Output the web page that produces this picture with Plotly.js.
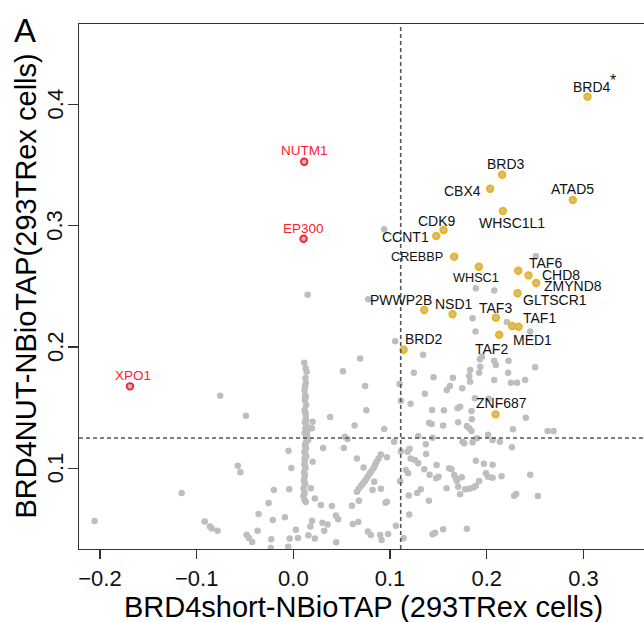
<!DOCTYPE html>
<html>
<head>
<meta charset="utf-8">
<script src="https://cdn.plot.ly/plotly-3.0.1.min.js"></script>
<style>html,body{margin:0;padding:0;background:#fff;}#chart{width:644px;height:622px;}</style>
</head>
<body>
<div id="chart"></div>
<script>
// ---------------- DATA ----------------
const xTickVals = [-0.2, -0.1, 0.0, 0.1, 0.2, 0.3];
const xTickText = ['\u22120.2', '\u22120.1', '0.0', '0.1', '0.2', '0.3'];
const yTickVals = [0.1, 0.2, 0.3, 0.4];
const yTickText = ['0.1', '0.2', '0.3', '0.4'];

const xThreshold = 0.111;
const yThreshold = 0.125;

const xTitle = 'BRD4short-NBioTAP (293TRex cells)';
const yTitle = 'BRD4NUT-NBioTAP(293TRex cells)';
const panelLabel = 'A';

// background proteins (grey)
const grayPoints = [
  [-0.2056,0.0566],[-0.1155,0.0796],[-0.0757,0.1599],[-0.0491,0.1434],[-0.0574,0.1021],[-0.0548,0.0968],[-0.0918,0.0561],[-0.0863,0.052],[-0.0843,0.0504],[-0.0784,0.0486],
  [-0.0484,0.0453],[-0.046,0.0425],[-0.0426,0.0392],[-0.037,0.0486],[-0.036,0.0623],[-0.0256,0.0714],[-0.0202,0.0821],[-0.0212,0.0574],[-0.0228,0.0415],[-0.0233,0.0343],
  [-0.0088,0.0596],[-0.0043,0.0827],[-0.005,0.1145],[-0.0021,0.1002],[-0.0039,0.0421],[-0.0054,0.0354],[0.0026,0.0494],[0.0047,0.0425],
  [0.0112,0.1871],[0.0137,0.1796],[0.0124,0.1744],[0.0129,0.1703],[0.0116,0.1646],[0.0122,0.1604],[0.0119,0.1563],[0.0132,0.1522],[0.0116,0.1481],[0.0126,0.1448],
  [0.0129,0.1415],[0.0119,0.1382],[0.0137,0.1349],[0.0147,0.1316],[0.0116,0.1291],[0.0132,0.1258],[0.0153,0.1233],[0.0122,0.12],[0.0129,0.1167],[0.0114,0.1134],
  [0.0134,0.1101],[0.0119,0.1068],[0.0114,0.1035],[0.0124,0.1002],[0.0112,0.0969],[0.0119,0.0937],[0.0109,0.0904],[0.0122,0.0871],[0.0105,0.0838],[0.0116,0.0805],
  [0.0103,0.0772],[0.0116,0.0739],[0.0129,0.0722],
  [0.0127,0.1825],[0.0121,0.1675],[0.0128,0.1585],[0.0121,0.1465],[0.0131,0.1398],[0.0125,0.1332],[0.0141,0.1275],[0.0131,0.1215],[0.0121,0.1185],[0.0123,0.115],
  [0.0117,0.1085],[0.0121,0.1018],[0.0115,0.0952],[0.0112,0.0887],[0.0113,0.0788],
  [0.0199,0.1384],[0.0191,0.133],[0.0199,0.1054],[0.0181,0.0835],[0.0222,0.0751],[0.0284,0.0697],[0.0398,0.0689],[0.0147,0.2431],
  [0.038,0.1423],[0.0512,0.18],[0.0691,0.1905],[0.0742,0.1678],[0.0755,0.1478],[0.0633,0.1353],[0.0533,0.126],[0.056,0.1242],[0.0522,0.1167],[0.0308,0.1167],
  [0.0657,0.1082],[0.0726,0.1007],
  [0.0905,0.1115],[0.0881,0.1082],[0.086,0.1054],[0.0846,0.1027],[0.0829,0.1],[0.0809,0.0978],[0.0791,0.0959],[0.0774,0.0939],[0.076,0.0918],[0.0739,0.0895],
  [0.0719,0.0876],[0.0698,0.0854],[0.0674,0.0829],[0.0657,0.0807],[0.0836,0.089],[0.0819,0.0821],[0.0905,0.0832],[0.0967,0.1091],[0.0967,0.0725],[0.0605,0.0692],
  [0.0677,0.0733],
  [0.0194,0.0568],[0.0176,0.052],[0.03,0.0552],[0.0354,0.0538],[0.044,0.0611],[0.0463,0.058],[0.0615,0.0541],[0.0672,0.0557],[0.0155,0.0448],[0.0222,0.0421],
  [0.0319,0.0486],[0.0443,0.039],[0.077,0.0479],[0.0801,0.045],[0.0898,0.045],[0.0912,0.0409],[0.098,0.0458],[0.106,0.0527],[0.114,0.0423],[0.1198,0.0619],
  [0.1104,0.0893],[0.1194,0.0776],[0.128,0.0796],[0.1318,0.0827],[0.1401,0.0733],[0.1163,0.0986],[0.1187,0.0959],[0.1256,0.1068],[0.1291,0.1041],[0.1181,0.1137],
  [0.1373,0.1118],[0.1291,0.1266],[0.137,0.1198],[0.1404,0.1376],[0.1429,0.1365],[0.1549,0.1353],[0.1704,0.1379],[0.1353,0.0992],[0.1408,0.0947],[0.1481,0.1027],
  [0.1502,0.0931],[0.1584,0.0835],[0.1611,0.1],[0.1636,0.0992],[0.1663,0.0945],[0.168,0.0918],[0.1704,0.0848],[0.1477,0.0918],[0.1439,0.0456],[0.1466,0.0469],
  [0.1549,0.0497],[0.1439,0.1252],[0.1112,0.114],[0.1202,0.1162],[0.0939,0.1324],[0.1042,0.1219],[0.0953,0.0716],
  [0.0774,0.2393],[0.1053,0.2047],[0.1342,0.1937],[0.1246,0.1788],[0.145,0.175],[0.1649,0.1747],[0.1098,0.1695],[0.1618,0.1678],[0.1587,0.1646],[0.136,0.1615],
  [0.1112,0.1557],[0.1212,0.1533],[0.1435,0.1481],[0.1556,0.1478],[0.1698,0.1495],[0.0939,0.297],
  [0.1887,0.2484],[0.2077,0.2467],[0.2508,0.275],[0.1853,0.2237],[0.2208,0.2206],[0.2449,0.2129],[0.1884,0.2129],[0.1949,0.192],[0.1929,0.1899],[0.2077,0.1887],
  [0.2094,0.1852],[0.2225,0.1887],[0.25,0.1833],[0.1828,0.181],[0.1932,0.1838],[0.1818,0.1761],[0.1921,0.1788],[0.2221,0.1788],[0.1828,0.1714],[0.2077,0.1728],
  [0.2249,0.1706],[0.2314,0.1706],[0.2397,0.1728],[0.1746,0.166],[0.1877,0.1577],[0.2019,0.1574],[0.1725,0.1508],[0.1843,0.1472],[0.2404,0.1417],
  [0.1794,0.1349],[0.1818,0.133],[0.1843,0.1307],[0.1846,0.1404],[0.227,0.1322],[0.2629,0.1307],[0.2691,0.1307],[0.2014,0.1277],[0.206,0.1233],[0.2135,0.1219],
  [0.1898,0.1247],[0.175,0.1219],[0.1766,0.1206],[0.1853,0.1214],[0.226,0.1173],[0.1887,0.1063],[0.197,0.1038],[0.206,0.103],[0.1691,0.0898],[0.1742,0.0926],
  [0.1991,0.0959],[0.2014,0.0931],[0.206,0.0923],[0.2153,0.0934],[0.2449,0.0947],[0.1921,0.0895],[0.1887,0.0857],[0.1864,0.0843],[0.1818,0.0832],[0.1777,0.0827],
  [0.1725,0.0786],[0.2283,0.0774],[0.2304,0.0788],[0.2528,0.0772],[0.1794,0.0502],[0.1212,0.1082]
];

// highlighted hits (orange)
const hitGenes = ['BRD4','BRD3','CBX4','ATAD5','WHSC1L1','CDK9','CCNT1','CREBBP','WHSC1','TAF6','CHD8','ZMYND8','GLTSCR1','PWWP2B','NSD1','TAF3','TAF1','MED1','TAF2','BRD2','ZNF687'];
const hitX = [0.3042,0.2159,0.2035,0.289,0.2166,0.1553,0.1477,0.1663,0.1918,0.2325,0.2432,0.2511,0.2318,0.1353,0.1646,0.2094,0.2329,0.2262,0.2128,0.114,0.2091];
const hitY = [0.4064,0.342,0.3305,0.3212,0.3121,0.2965,0.2915,0.2745,0.2662,0.2629,0.2591,0.2528,0.2443,0.2305,0.227,0.2242,0.2167,0.2173,0.2101,0.1978,0.1445];

// highlighted (red)
const redGenes = ['NUTM1','EP300','XPO1'];
const redX = [0.0112,0.0105,-0.169];
const redY = [0.3528,0.2893,0.1676];

// ---------------- STYLE / LABEL PLACEMENT ----------------
const FONT = 'Liberation Sans, Arial, Helvetica, sans-serif';
const GREY = '#bebebe';
const ORANGE = '#f5b400';
const RED = '#ff2030';
// [anchor, dx(px), dy(px, down positive), fontsize]
const labelPlace = {
  BRD4:['left',-16,-10,14], BRD3:['center',4,-10.7,14], CBX4:['right',-8,2.3,14], ATAD5:['center',0,-11,14],
  WHSC1L1:['center',9.5,11.7,14], CDK9:['center',-6.7,-9,14], CCNT1:['right',-6,1.3,14], CREBBP:['right',-10,0.7,12.7],
  WHSC1:['center',-3.2,11.7,12.7], TAF6:['left',10,-7.8,14], CHD8:['left',12,-0.8,14], ZMYND8:['left',6.5,2.7,14],
  GLTSCR1:['left',4.5,6.7,14], PWWP2B:['center',-23.3,-10,14], NSD1:['center',1.8,-10.3,14], TAF3:['center',0,-9.4,14],
  TAF1:['left',3,-8.7,14], MED1:['left',-0.5,14,14], TAF2:['center',-7.8,14.3,14], BRD2:['left',0.6,-10.4,14],
  ZNF687:['center',6,-11,14], NUTM1:['center',0,-10.7,13.5], EP300:['center',0,-10.4,13.5], XPO1:['center',3.3,-11.3,13.5]
};

function labelAnn(name, x, y, color) {
  const p = labelPlace[name];
  return {x: x, y: y, xref: 'x', yref: 'y', text: name, showarrow: false,
    xanchor: p[0], yanchor: 'middle', xshift: p[1], yshift: -p[2], borderpad: 0,
    font: {family: FONT, size: p[3], color: color}};
}

const traces = [
  {type: 'scatter', mode: 'markers', x: grayPoints.map(p => p[0]), y: grayPoints.map(p => p[1]),
   marker: {color: GREY, size: 6.5, line: {width: 0}}, hoverinfo: 'skip', cliponaxis: true},
  {type: 'scatter', mode: 'markers', x: hitX, y: hitY, text: hitGenes,
   marker: {color: GREY, size: 6.5, line: {width: 1.9, color: ORANGE}}},
  {type: 'scatter', mode: 'markers', x: redX, y: redY, text: redGenes,
   marker: {color: GREY, size: 6.5, line: {width: 1.9, color: RED}}}
];

const annotations = [];
hitGenes.forEach((g, i) => annotations.push(labelAnn(g, hitX[i], hitY[i], '#111')));
redGenes.forEach((g, i) => annotations.push(labelAnn(g, redX[i], redY[i], RED)));
// asterisk on BRD4
annotations.push({x: hitX[0], y: hitY[0], xref: 'x', yref: 'y', text: '*', showarrow: false,
  xanchor: 'center', yanchor: 'middle', xshift: 25.5, yshift: 16, borderpad: 0,
  font: {family: FONT, size: 16, color: '#111'}});

// plot geometry (px)
const L = 79, R = 644, T = 24, B = 549;
const W = 644, H = 622;
const px2paperX = px => (px - L) / (R - L);
const px2paperY = py => (B - py) / (B - T);

// rotated y tick labels (R style), placed next to the ticks
yTickVals.forEach((v, i) => annotations.push({xref: 'paper', yref: 'y', x: px2paperX(55), y: v, text: yTickText[i],
  textangle: -90, showarrow: false, xanchor: 'center', yanchor: 'middle', borderpad: 0,
  font: {family: FONT, size: 22, color: '#111'}}));

annotations.push({xref: 'paper', yref: 'paper', x: px2paperX(25), y: px2paperY(30), text: panelLabel,
  showarrow: false, xanchor: 'center', yanchor: 'middle', font: {family: FONT, size: 33, color: '#000'}});
annotations.push({xref: 'paper', yref: 'paper', x: px2paperX(25), y: px2paperY(286.5), text: yTitle, textangle: -90,
  showarrow: false, xanchor: 'center', yanchor: 'middle', font: {family: FONT, size: 29, color: '#000'}});
annotations.push({xref: 'paper', yref: 'paper', x: px2paperX(363), y: px2paperY(607), text: xTitle,
  showarrow: false, xanchor: 'center', yanchor: 'middle', font: {family: FONT, size: 29, color: '#000'}});

const layout = {
  width: W, height: H,
  margin: {l: L, r: W - R, t: T, b: H - B, pad: 0},
  paper_bgcolor: '#fff', plot_bgcolor: '#fff',
  showlegend: false,
  font: {family: FONT, color: '#000'},
  xaxis: {range: [-0.2217, 0.3626], tickvals: xTickVals, ticktext: xTickText, ticks: 'outside', ticklen: 9,
    tickwidth: 1.2, tickcolor: '#333', showline: true, linecolor: '#333', linewidth: 1.3, mirror: true,
    showgrid: false, zeroline: false, tickfont: {family: FONT, size: 22, color: '#111'}},
  yaxis: {range: [0.0335, 0.4663], tickvals: yTickVals, showticklabels: false, ticks: 'outside', ticklen: 10,
    tickwidth: 1.2, tickcolor: '#333', showline: true, linecolor: '#333', linewidth: 1.3, mirror: false,
    showgrid: false, zeroline: false},
  shapes: [
    {type: 'line', xref: 'x', yref: 'paper', x0: xThreshold, x1: xThreshold, y0: 0, y1: 1,
     line: {color: '#555', width: 1.6, dash: '4px,3px'}},
    {type: 'line', xref: 'paper', yref: 'y', x0: 0, x1: 1, y0: yThreshold, y1: yThreshold,
     line: {color: '#555', width: 1.6, dash: '4px,3px'}}
  ],
  annotations: annotations
};

Plotly.newPlot('chart', traces, layout, {displayModeBar: false, staticPlot: true});
</script>
</body>
</html>
